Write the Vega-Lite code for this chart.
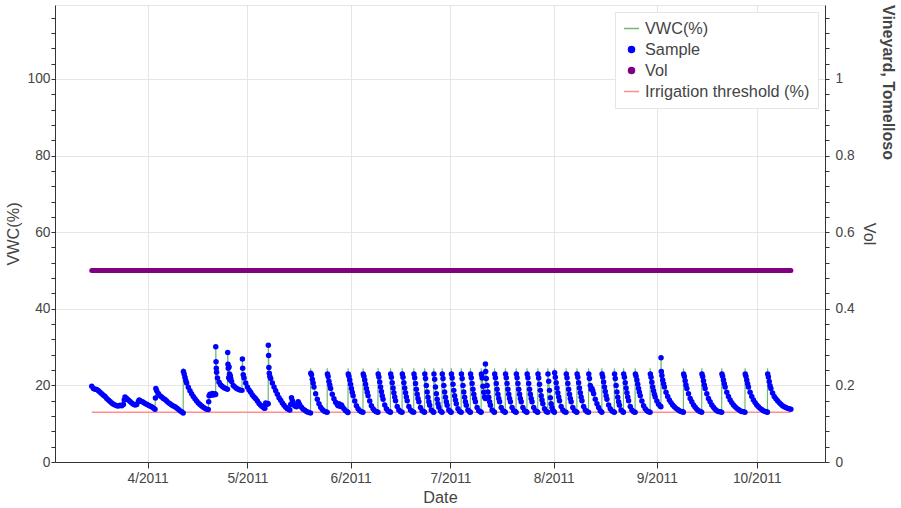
{
"$schema": "https://vega.github.io/schema/vega-lite/v6.json",
"width": 770,
"height": 457,
"padding": {"left": 5, "top": 5, "right": 5, "bottom": 5},
"background": "white",
"title": {"text": "Vineyard, Tomelloso", "orient": "right", "anchor": "start", "fontSize": 16, "font": "Liberation Sans", "fontWeight": "bold", "color": "#444", "offset": 4},
"data": {"format": {"parse": {"t": "date:'%Y-%m-%d %H'"}}, "values": [
{"t":"2011-03-15 06","v":19.8},{"t":"2011-03-15 18","v":19.2},{"t":"2011-03-16 06","v":19.0},{"t":"2011-03-16 18","v":18.9},{"t":"2011-03-17 06","v":18.6},{"t":"2011-03-17 18","v":18.2},{"t":"2011-03-18 06","v":17.8},{"t":"2011-03-18 18","v":17.4},{"t":"2011-03-19 06","v":17.1},{"t":"2011-03-19 18","v":16.6},{"t":"2011-03-20 06","v":16.2},{"t":"2011-03-20 18","v":15.8},{"t":"2011-03-21 06","v":15.4},{"t":"2011-03-21 18","v":15.1},{"t":"2011-03-22 06","v":14.9},{"t":"2011-03-22 18","v":14.7},{"t":"2011-03-23 06","v":14.6},{"t":"2011-03-23 18","v":14.8},{"t":"2011-03-24 06","v":14.7},{"t":"2011-03-24 18","v":15.0},{"t":"2011-03-25 00","v":16.2},{"t":"2011-03-25 06","v":17.0},{"t":"2011-03-25 18","v":16.6},{"t":"2011-03-26 06","v":16.2},{"t":"2011-03-26 18","v":15.8},{"t":"2011-03-27 06","v":15.4},{"t":"2011-03-27 18","v":15.1},{"t":"2011-03-28 06","v":14.9},{"t":"2011-03-28 18","v":15.0},{"t":"2011-03-29 06","v":15.8},{"t":"2011-03-29 12","v":16.2},{"t":"2011-03-29 18","v":16.0},{"t":"2011-03-30 06","v":15.8},{"t":"2011-03-30 18","v":15.6},{"t":"2011-03-31 06","v":15.3},{"t":"2011-03-31 18","v":15.1},
{"t":"2011-04-01 06","v":14.8},{"t":"2011-04-01 18","v":14.6},{"t":"2011-04-02 06","v":14.4},{"t":"2011-04-02 18","v":14.1},{"t":"2011-04-03 06","v":13.8},{"t":"2011-04-03 09","v":16.7},{"t":"2011-04-03 12","v":19.2},{"t":"2011-04-03 18","v":18.6},{"t":"2011-04-04 06","v":17.9},{"t":"2011-04-04 18","v":17.3},{"t":"2011-04-05 06","v":17.0},{"t":"2011-04-05 18","v":16.6},{"t":"2011-04-06 06","v":16.3},{"t":"2011-04-06 18","v":15.9},{"t":"2011-04-07 06","v":15.5},{"t":"2011-04-07 18","v":15.2},{"t":"2011-04-08 06","v":14.9},{"t":"2011-04-08 18","v":14.6},{"t":"2011-04-09 06","v":14.4},{"t":"2011-04-09 18","v":14.1},{"t":"2011-04-10 06","v":13.8},{"t":"2011-04-10 18","v":13.4},{"t":"2011-04-11 06","v":13.1},{"t":"2011-04-11 17","v":12.8},
{"t":"2011-04-11 18","v":24.5,"s":0},{"t":"2011-04-11 19","v":23.6},{"t":"2011-04-12 00","v":23.0},{"t":"2011-04-12 06","v":22.1},{"t":"2011-04-12 12","v":21.3},{"t":"2011-04-12 18","v":20.6},{"t":"2011-04-13 06","v":19.5},{"t":"2011-04-13 18","v":18.6},{"t":"2011-04-14 06","v":17.8},{"t":"2011-04-14 18","v":17.1},{"t":"2011-04-15 06","v":16.5},{"t":"2011-04-15 18","v":15.9},{"t":"2011-04-16 06","v":15.4},{"t":"2011-04-16 18","v":15.0},{"t":"2011-04-17 06","v":14.6},{"t":"2011-04-17 18","v":14.3},{"t":"2011-04-18 06","v":14.0},{"t":"2011-04-18 18","v":13.8},{"t":"2011-04-19 06","v":13.7},
{"t":"2011-04-19 09","v":15.7},{"t":"2011-04-19 12","v":17.3},{"t":"2011-04-19 18","v":17.7},{"t":"2011-04-20 00","v":17.4},{"t":"2011-04-20 06","v":17.6},{"t":"2011-04-20 12","v":17.9},{"t":"2011-04-20 18","v":17.5},{"t":"2011-04-21 00","v":17.6},{"t":"2011-04-21 06","v":17.8},{"t":"2011-04-21 11","v":17.6},
{"t":"2011-04-21 12","v":30.1},{"t":"2011-04-21 14","v":26.2},{"t":"2011-04-21 16","v":24.5},{"t":"2011-04-21 18","v":23.4},{"t":"2011-04-22 00","v":21.9},{"t":"2011-04-22 12","v":20.8},{"t":"2011-04-23 00","v":20.1},{"t":"2011-04-23 12","v":19.7},{"t":"2011-04-24 00","v":19.4},{"t":"2011-04-24 12","v":19.2},{"t":"2011-04-25 00","v":19.0},
{"t":"2011-04-25 02","v":28.6},{"t":"2011-04-25 04","v":25.5},{"t":"2011-04-25 06","v":24.5},{"t":"2011-04-25 09","v":22.0},{"t":"2011-04-25 12","v":24.8},{"t":"2011-04-25 15","v":23.0},{"t":"2011-04-25 18","v":21.5},{"t":"2011-04-25 21","v":22.5},{"t":"2011-04-26 00","v":21.8},{"t":"2011-04-26 06","v":21.0},{"t":"2011-04-26 18","v":20.0},{"t":"2011-04-27 06","v":19.6},{"t":"2011-04-27 18","v":19.2},{"t":"2011-04-28 06","v":19.0},{"t":"2011-04-28 18","v":18.8},{"t":"2011-04-29 09","v":18.7},
{"t":"2011-04-29 12","v":26.9},{"t":"2011-04-29 14","v":24.5},{"t":"2011-04-29 18","v":22.8},{"t":"2011-04-30 00","v":21.9},{"t":"2011-04-30 12","v":20.6},{"t":"2011-05-01 00","v":19.6},{"t":"2011-05-01 12","v":18.8},{"t":"2011-05-02 00","v":18.2},{"t":"2011-05-02 12","v":17.5},{"t":"2011-05-03 00","v":17.0},{"t":"2011-05-03 12","v":16.5},{"t":"2011-05-04 00","v":15.9},{"t":"2011-05-04 12","v":15.3},{"t":"2011-05-05 00","v":14.8},{"t":"2011-05-05 12","v":14.4},{"t":"2011-05-06 00","v":14.1},{"t":"2011-05-06 06","v":14.0},{"t":"2011-05-06 12","v":15.4},{"t":"2011-05-06 18","v":15.0},{"t":"2011-05-07 00","v":15.3},{"t":"2011-05-07 06","v":15.2},
{"t":"2011-05-07 07","v":30.5},{"t":"2011-05-07 09","v":27.8},{"t":"2011-05-07 11","v":24.7},{"t":"2011-05-07 14","v":23.2},{"t":"2011-05-07 18","v":22.3},{"t":"2011-05-08 00","v":21.8},{"t":"2011-05-08 12","v":20.6},{"t":"2011-05-09 00","v":19.6},{"t":"2011-05-09 12","v":18.6},{"t":"2011-05-10 00","v":17.7},{"t":"2011-05-10 12","v":16.8},{"t":"2011-05-11 00","v":16.1},{"t":"2011-05-11 12","v":15.4},{"t":"2011-05-12 00","v":14.8},{"t":"2011-05-12 12","v":14.3},{"t":"2011-05-13 00","v":13.9},{"t":"2011-05-13 12","v":13.7},{"t":"2011-05-13 18","v":13.6},{"t":"2011-05-14 00","v":15.0},{"t":"2011-05-14 06","v":16.8},{"t":"2011-05-14 12","v":16.0},{"t":"2011-05-14 18","v":15.4},{"t":"2011-05-15 06","v":14.6},{"t":"2011-05-15 18","v":14.4},{"t":"2011-05-16 06","v":15.7},{"t":"2011-05-16 12","v":15.3},{"t":"2011-05-16 18","v":14.8},{"t":"2011-05-17 06","v":14.3},{"t":"2011-05-17 18","v":13.8},{"t":"2011-05-18 06","v":13.5},{"t":"2011-05-18 18","v":13.2},{"t":"2011-05-19 06","v":13.0},{"t":"2011-05-19 23","v":12.8},
{"t":"2011-05-20 00","v":24.5,"s":0},{"t":"2011-05-20 01","v":23.2},{"t":"2011-05-20 06","v":22.8},{"t":"2011-05-20 12","v":21.6},{"t":"2011-05-20 18","v":20.6},{"t":"2011-05-21 00","v":19.6},{"t":"2011-05-21 12","v":17.8},{"t":"2011-05-22 00","v":16.4},{"t":"2011-05-22 12","v":15.2},{"t":"2011-05-23 00","v":14.3},{"t":"2011-05-23 12","v":13.7},{"t":"2011-05-24 00","v":13.3},{"t":"2011-05-24 12","v":13.1},{"t":"2011-05-24 23","v":13.0},
{"t":"2011-05-25 00","v":24.5,"s":0},{"t":"2011-05-25 01","v":23.0},{"t":"2011-05-25 06","v":22.3},{"t":"2011-05-25 12","v":21.1},{"t":"2011-05-25 18","v":20.1},{"t":"2011-05-26 00","v":19.2},{"t":"2011-05-26 12","v":17.7},{"t":"2011-05-27 00","v":16.5},{"t":"2011-05-27 12","v":15.6},{"t":"2011-05-28 00","v":15.0},{"t":"2011-05-28 06","v":14.7},{"t":"2011-05-28 12","v":15.2},{"t":"2011-05-28 18","v":14.8},{"t":"2011-05-29 00","v":14.5},{"t":"2011-05-29 06","v":14.9},{"t":"2011-05-29 12","v":14.4},{"t":"2011-05-30 00","v":13.9},{"t":"2011-05-30 12","v":13.4},{"t":"2011-05-31 00","v":13.1},{"t":"2011-05-31 05","v":12.9},
{"t":"2011-05-31 06","v":24.5,"s":0},{"t":"2011-05-31 07","v":23.0},{"t":"2011-05-31 12","v":22.4},{"t":"2011-05-31 18","v":21.4},{"t":"2011-06-01 00","v":20.3},{"t":"2011-06-01 06","v":19.2},{"t":"2011-06-01 12","v":18.2},{"t":"2011-06-01 18","v":17.3},{"t":"2011-06-02 06","v":15.9},{"t":"2011-06-02 18","v":14.7},{"t":"2011-06-03 06","v":13.9},{"t":"2011-06-03 18","v":13.4},{"t":"2011-06-04 06","v":13.1},{"t":"2011-06-04 17","v":13.0},
{"t":"2011-06-04 18","v":24.5,"s":0},{"t":"2011-06-04 19","v":23.0},{"t":"2011-06-05 00","v":22.4},{"t":"2011-06-05 06","v":21.4},{"t":"2011-06-05 12","v":20.3},{"t":"2011-06-05 18","v":19.2},{"t":"2011-06-06 00","v":18.2},{"t":"2011-06-06 06","v":17.3},{"t":"2011-06-06 18","v":15.9},{"t":"2011-06-07 06","v":14.7},{"t":"2011-06-07 18","v":13.9},{"t":"2011-06-08 06","v":13.4},{"t":"2011-06-08 18","v":13.1},{"t":"2011-06-09 05","v":13.0},
{"t":"2011-06-09 06","v":24.5,"s":0},{"t":"2011-06-09 07","v":23.0},{"t":"2011-06-09 12","v":22.2},{"t":"2011-06-09 18","v":20.9},{"t":"2011-06-10 00","v":19.6},{"t":"2011-06-10 06","v":18.4},{"t":"2011-06-10 12","v":17.3},{"t":"2011-06-10 18","v":16.4},{"t":"2011-06-11 06","v":14.9},{"t":"2011-06-11 18","v":13.9},{"t":"2011-06-12 06","v":13.3},{"t":"2011-06-12 18","v":13.1},{"t":"2011-06-12 23","v":13.0},
{"t":"2011-06-13 00","v":24.5,"s":0},{"t":"2011-06-13 01","v":23.0},{"t":"2011-06-13 06","v":22.1},{"t":"2011-06-13 12","v":20.7},{"t":"2011-06-13 18","v":19.3},{"t":"2011-06-14 00","v":18.1},{"t":"2011-06-14 06","v":17.0},{"t":"2011-06-14 12","v":16.0},{"t":"2011-06-15 00","v":14.5},{"t":"2011-06-15 12","v":13.6},{"t":"2011-06-16 00","v":13.1},{"t":"2011-06-16 11","v":13.0},
{"t":"2011-06-16 12","v":24.5,"s":0},{"t":"2011-06-16 13","v":23.0},{"t":"2011-06-16 18","v":22.1},{"t":"2011-06-17 00","v":20.7},{"t":"2011-06-17 06","v":19.3},{"t":"2011-06-17 12","v":18.1},{"t":"2011-06-17 18","v":17.0},{"t":"2011-06-18 00","v":16.0},{"t":"2011-06-18 12","v":14.5},{"t":"2011-06-19 00","v":13.6},{"t":"2011-06-19 12","v":13.1},{"t":"2011-06-19 23","v":13.0},
{"t":"2011-06-20 00","v":24.5,"s":0},{"t":"2011-06-20 01","v":23.0},{"t":"2011-06-20 06","v":22.0},{"t":"2011-06-20 12","v":20.5},{"t":"2011-06-20 18","v":19.0},{"t":"2011-06-21 00","v":17.7},{"t":"2011-06-21 06","v":16.6},{"t":"2011-06-21 12","v":15.7},{"t":"2011-06-22 00","v":14.2},{"t":"2011-06-22 12","v":13.4},{"t":"2011-06-23 00","v":13.1},{"t":"2011-06-23 05","v":13.0},
{"t":"2011-06-23 06","v":24.5,"s":0},{"t":"2011-06-23 07","v":23.0},{"t":"2011-06-23 12","v":21.8},{"t":"2011-06-23 18","v":20.0},{"t":"2011-06-24 00","v":18.3},{"t":"2011-06-24 06","v":16.9},{"t":"2011-06-24 12","v":15.7},{"t":"2011-06-24 18","v":14.8},{"t":"2011-06-25 06","v":13.6},{"t":"2011-06-25 18","v":13.1},{"t":"2011-06-25 23","v":13.0},
{"t":"2011-06-26 00","v":24.5,"s":0},{"t":"2011-06-26 01","v":23.0},{"t":"2011-06-26 06","v":21.6},{"t":"2011-06-26 12","v":19.6},{"t":"2011-06-26 18","v":17.8},{"t":"2011-06-27 00","v":16.4},{"t":"2011-06-27 06","v":15.2},{"t":"2011-06-27 12","v":14.3},{"t":"2011-06-28 00","v":13.3},{"t":"2011-06-28 11","v":13.0},
{"t":"2011-06-28 12","v":24.5,"s":0},{"t":"2011-06-28 13","v":23.0},{"t":"2011-06-28 18","v":21.8},{"t":"2011-06-29 00","v":20.0},{"t":"2011-06-29 06","v":18.3},{"t":"2011-06-29 12","v":16.9},{"t":"2011-06-29 18","v":15.7},{"t":"2011-06-30 00","v":14.8},{"t":"2011-06-30 12","v":13.6},{"t":"2011-07-01 00","v":13.1},{"t":"2011-07-01 05","v":13.0},
{"t":"2011-07-01 06","v":24.5,"s":0},{"t":"2011-07-01 07","v":23.0},{"t":"2011-07-01 12","v":21.9},{"t":"2011-07-01 18","v":20.3},{"t":"2011-07-02 00","v":18.7},{"t":"2011-07-02 06","v":17.3},{"t":"2011-07-02 12","v":16.2},{"t":"2011-07-02 18","v":15.2},{"t":"2011-07-03 06","v":13.9},{"t":"2011-07-03 18","v":13.2},{"t":"2011-07-04 05","v":13.0},
{"t":"2011-07-04 06","v":24.5,"s":0},{"t":"2011-07-04 07","v":23.0},{"t":"2011-07-04 12","v":21.8},{"t":"2011-07-04 18","v":20.0},{"t":"2011-07-05 00","v":18.3},{"t":"2011-07-05 06","v":16.9},{"t":"2011-07-05 12","v":15.7},{"t":"2011-07-05 18","v":14.8},{"t":"2011-07-06 06","v":13.6},{"t":"2011-07-06 18","v":13.1},{"t":"2011-07-06 23","v":13.0},
{"t":"2011-07-07 00","v":24.5,"s":0},{"t":"2011-07-07 01","v":23.0},{"t":"2011-07-07 06","v":22.0},{"t":"2011-07-07 12","v":20.5},{"t":"2011-07-07 18","v":19.0},{"t":"2011-07-08 00","v":17.7},{"t":"2011-07-08 06","v":16.6},{"t":"2011-07-08 12","v":15.7},{"t":"2011-07-09 00","v":14.2},{"t":"2011-07-09 12","v":13.4},{"t":"2011-07-10 00","v":13.1},{"t":"2011-07-10 05","v":13.0},
{"t":"2011-07-10 06","v":24.5,"s":0},{"t":"2011-07-10 07","v":23.0},{"t":"2011-07-10 09","v":22.7},{"t":"2011-07-10 12","v":21.9},{"t":"2011-07-10 18","v":19.8},{"t":"2011-07-11 00","v":18.2},{"t":"2011-07-11 06","v":17.0},{"t":"2011-07-11 11","v":16.6},
{"t":"2011-07-11 12","v":25.6},{"t":"2011-07-11 14","v":23.6},{"t":"2011-07-11 18","v":21.8},{"t":"2011-07-12 00","v":20.0},{"t":"2011-07-12 06","v":18.3},{"t":"2011-07-12 12","v":16.9},{"t":"2011-07-12 18","v":15.7},{"t":"2011-07-13 00","v":14.8},{"t":"2011-07-13 12","v":13.6},{"t":"2011-07-14 00","v":13.1},{"t":"2011-07-14 05","v":13.0},
{"t":"2011-07-14 06","v":24.5,"s":0},{"t":"2011-07-14 07","v":23.0},{"t":"2011-07-14 12","v":22.0},{"t":"2011-07-14 18","v":20.5},{"t":"2011-07-15 00","v":19.0},{"t":"2011-07-15 06","v":17.7},{"t":"2011-07-15 12","v":16.6},{"t":"2011-07-15 18","v":15.7},{"t":"2011-07-16 06","v":14.2},{"t":"2011-07-16 18","v":13.4},{"t":"2011-07-17 06","v":13.1},{"t":"2011-07-17 11","v":13.0},
{"t":"2011-07-17 12","v":24.5,"s":0},{"t":"2011-07-17 13","v":23.0},{"t":"2011-07-17 18","v":22.0},{"t":"2011-07-18 00","v":20.5},{"t":"2011-07-18 06","v":19.0},{"t":"2011-07-18 12","v":17.7},{"t":"2011-07-18 18","v":16.6},{"t":"2011-07-19 00","v":15.7},{"t":"2011-07-19 12","v":14.2},{"t":"2011-07-20 00","v":13.4},{"t":"2011-07-20 12","v":13.1},{"t":"2011-07-20 17","v":13.0},
{"t":"2011-07-20 18","v":24.5,"s":0},{"t":"2011-07-20 19","v":23.0},{"t":"2011-07-21 00","v":22.0},{"t":"2011-07-21 06","v":20.5},{"t":"2011-07-21 12","v":19.0},{"t":"2011-07-21 18","v":17.7},{"t":"2011-07-22 00","v":16.6},{"t":"2011-07-22 06","v":15.7},{"t":"2011-07-22 18","v":14.2},{"t":"2011-07-23 06","v":13.4},{"t":"2011-07-23 18","v":13.1},{"t":"2011-07-23 23","v":13.0},
{"t":"2011-07-24 00","v":24.5,"s":0},{"t":"2011-07-24 01","v":23.0},{"t":"2011-07-24 06","v":22.0},{"t":"2011-07-24 12","v":20.5},{"t":"2011-07-24 18","v":19.0},{"t":"2011-07-25 00","v":17.7},{"t":"2011-07-25 06","v":16.6},{"t":"2011-07-25 12","v":15.7},{"t":"2011-07-26 00","v":14.2},{"t":"2011-07-26 12","v":13.4},{"t":"2011-07-27 00","v":13.1},{"t":"2011-07-27 05","v":13.0},
{"t":"2011-07-27 06","v":24.5,"s":0},{"t":"2011-07-27 07","v":23.0},{"t":"2011-07-27 12","v":21.9},{"t":"2011-07-27 18","v":20.3},{"t":"2011-07-28 00","v":18.7},{"t":"2011-07-28 06","v":17.3},{"t":"2011-07-28 12","v":16.2},{"t":"2011-07-28 18","v":15.2},{"t":"2011-07-29 06","v":13.9},{"t":"2011-07-29 18","v":13.2},{"t":"2011-07-30 05","v":13.0},
{"t":"2011-07-30 06","v":24.5,"s":0},{"t":"2011-07-30 07","v":23.0},{"t":"2011-07-30 12","v":21.1},{"t":"2011-07-30 18","v":18.7},{"t":"2011-07-31 00","v":16.8},{"t":"2011-07-31 06","v":15.2},{"t":"2011-07-31 12","v":14.2},{"t":"2011-07-31 18","v":13.5},{"t":"2011-08-01 00","v":13.2},{"t":"2011-08-01 05","v":13.0},
{"t":"2011-08-01 06","v":24.5,"s":0},{"t":"2011-08-01 07","v":23.3},{"t":"2011-08-01 12","v":22.1},{"t":"2011-08-01 18","v":20.7},{"t":"2011-08-02 00","v":19.3},{"t":"2011-08-02 06","v":18.1},{"t":"2011-08-02 12","v":17.0},{"t":"2011-08-02 18","v":16.0},{"t":"2011-08-03 06","v":14.5},{"t":"2011-08-03 18","v":13.6},{"t":"2011-08-04 06","v":13.1},{"t":"2011-08-04 17","v":13.0},
{"t":"2011-08-04 18","v":24.5,"s":0},{"t":"2011-08-04 19","v":23.0},{"t":"2011-08-05 00","v":22.0},{"t":"2011-08-05 06","v":20.5},{"t":"2011-08-05 12","v":19.0},{"t":"2011-08-05 18","v":17.7},{"t":"2011-08-06 00","v":16.6},{"t":"2011-08-06 06","v":15.7},{"t":"2011-08-06 18","v":14.2},{"t":"2011-08-07 06","v":13.4},{"t":"2011-08-07 18","v":13.1},{"t":"2011-08-07 23","v":13.0},
{"t":"2011-08-08 00","v":24.5,"s":0},{"t":"2011-08-08 01","v":23.0},{"t":"2011-08-08 06","v":22.1},{"t":"2011-08-08 12","v":20.7},{"t":"2011-08-08 18","v":19.3},{"t":"2011-08-09 00","v":18.1},{"t":"2011-08-09 06","v":17.0},{"t":"2011-08-09 12","v":16.0},{"t":"2011-08-10 00","v":14.5},{"t":"2011-08-10 12","v":13.6},{"t":"2011-08-11 00","v":13.1},{"t":"2011-08-11 11","v":13.0},
{"t":"2011-08-11 12","v":24.5,"s":0},{"t":"2011-08-11 13","v":23.0},{"t":"2011-08-11 18","v":21.8},{"t":"2011-08-12 00","v":20.0},{"t":"2011-08-12 06","v":19.0},{"t":"2011-08-12 12","v":19.2},{"t":"2011-08-12 18","v":18.6},{"t":"2011-08-13 00","v":17.8},{"t":"2011-08-13 12","v":16.4},{"t":"2011-08-14 00","v":15.2},{"t":"2011-08-14 12","v":14.2},{"t":"2011-08-15 00","v":13.4},{"t":"2011-08-15 11","v":13.0},
{"t":"2011-08-15 12","v":24.5,"s":0},{"t":"2011-08-15 13","v":23.0},{"t":"2011-08-15 18","v":22.2},{"t":"2011-08-16 00","v":20.9},{"t":"2011-08-16 06","v":19.6},{"t":"2011-08-16 12","v":18.4},{"t":"2011-08-16 18","v":17.3},{"t":"2011-08-17 00","v":16.4},{"t":"2011-08-17 12","v":14.9},{"t":"2011-08-18 00","v":13.9},{"t":"2011-08-18 12","v":13.3},{"t":"2011-08-19 00","v":13.1},{"t":"2011-08-19 05","v":13.0},
{"t":"2011-08-19 06","v":24.5,"s":0},{"t":"2011-08-19 07","v":23.0},{"t":"2011-08-19 12","v":21.8},{"t":"2011-08-19 18","v":20.0},{"t":"2011-08-20 00","v":18.3},{"t":"2011-08-20 06","v":16.9},{"t":"2011-08-20 12","v":15.7},{"t":"2011-08-20 18","v":14.8},{"t":"2011-08-21 06","v":13.6},{"t":"2011-08-21 18","v":13.1},{"t":"2011-08-21 23","v":13.0},
{"t":"2011-08-22 00","v":24.5,"s":0},{"t":"2011-08-22 01","v":23.0},{"t":"2011-08-22 06","v":22.1},{"t":"2011-08-22 12","v":20.7},{"t":"2011-08-22 18","v":19.3},{"t":"2011-08-23 00","v":18.1},{"t":"2011-08-23 06","v":17.0},{"t":"2011-08-23 12","v":16.0},{"t":"2011-08-24 00","v":14.5},{"t":"2011-08-24 12","v":13.6},{"t":"2011-08-25 00","v":13.1},{"t":"2011-08-25 11","v":13.0},
{"t":"2011-08-25 12","v":24.5,"s":0},{"t":"2011-08-25 13","v":23.0},{"t":"2011-08-25 18","v":22.4},{"t":"2011-08-26 00","v":21.4},{"t":"2011-08-26 06","v":20.3},{"t":"2011-08-26 12","v":19.2},{"t":"2011-08-26 18","v":18.2},{"t":"2011-08-27 00","v":17.3},{"t":"2011-08-27 12","v":15.9},{"t":"2011-08-28 00","v":14.7},{"t":"2011-08-28 12","v":13.9},{"t":"2011-08-29 00","v":13.4},{"t":"2011-08-29 12","v":13.1},{"t":"2011-08-29 23","v":13.0},
{"t":"2011-08-30 00","v":24.5,"s":0},{"t":"2011-08-30 01","v":23.0},{"t":"2011-08-30 06","v":22.1},{"t":"2011-08-30 12","v":20.8},{"t":"2011-08-30 18","v":19.6},{"t":"2011-08-31 00","v":18.6},{"t":"2011-08-31 06","v":17.7},{"t":"2011-08-31 12","v":17.0},{"t":"2011-09-01 00","v":15.9},{"t":"2011-09-01 12","v":15.1},{"t":"2011-09-02 00","v":14.6},{"t":"2011-09-02 05","v":14.4},
{"t":"2011-09-02 06","v":27.2},{"t":"2011-09-02 08","v":23.6},{"t":"2011-09-02 12","v":22.6},{"t":"2011-09-02 18","v":21.4},{"t":"2011-09-03 00","v":20.4},{"t":"2011-09-03 06","v":19.6},{"t":"2011-09-03 18","v":18.2},{"t":"2011-09-04 06","v":17.1},{"t":"2011-09-04 18","v":16.2},{"t":"2011-09-05 06","v":15.5},{"t":"2011-09-05 18","v":14.9},{"t":"2011-09-06 06","v":14.4},{"t":"2011-09-06 18","v":14.0},{"t":"2011-09-07 06","v":13.7},{"t":"2011-09-07 18","v":13.4},{"t":"2011-09-08 06","v":13.2},{"t":"2011-09-08 18","v":13.1},{"t":"2011-09-08 23","v":13.0},
{"t":"2011-09-09 00","v":24.5,"s":0},{"t":"2011-09-09 01","v":23.0},{"t":"2011-09-09 06","v":22.3},{"t":"2011-09-09 12","v":21.2},{"t":"2011-09-09 18","v":20.1},{"t":"2011-09-10 00","v":19.2},{"t":"2011-09-10 12","v":17.8},{"t":"2011-09-11 00","v":16.6},{"t":"2011-09-11 12","v":15.7},{"t":"2011-09-12 00","v":14.9},{"t":"2011-09-12 12","v":14.3},{"t":"2011-09-13 00","v":13.8},{"t":"2011-09-13 12","v":13.4},{"t":"2011-09-14 00","v":13.2},{"t":"2011-09-14 11","v":13.0},
{"t":"2011-09-14 12","v":24.5,"s":0},{"t":"2011-09-14 13","v":23.0},{"t":"2011-09-14 18","v":22.3},{"t":"2011-09-15 00","v":21.2},{"t":"2011-09-15 06","v":20.1},{"t":"2011-09-15 12","v":19.2},{"t":"2011-09-16 00","v":17.8},{"t":"2011-09-16 12","v":16.6},{"t":"2011-09-17 00","v":15.7},{"t":"2011-09-17 12","v":14.9},{"t":"2011-09-18 00","v":14.3},{"t":"2011-09-18 12","v":13.8},{"t":"2011-09-19 00","v":13.4},{"t":"2011-09-19 12","v":13.2},{"t":"2011-09-20 00","v":13.1},{"t":"2011-09-20 11","v":13.0},
{"t":"2011-09-20 12","v":24.5,"s":0},{"t":"2011-09-20 13","v":23.0},{"t":"2011-09-20 18","v":22.4},{"t":"2011-09-21 00","v":21.4},{"t":"2011-09-21 06","v":20.4},{"t":"2011-09-21 12","v":19.6},{"t":"2011-09-22 00","v":18.2},{"t":"2011-09-22 12","v":17.1},{"t":"2011-09-23 00","v":16.2},{"t":"2011-09-23 12","v":15.5},{"t":"2011-09-24 00","v":14.9},{"t":"2011-09-24 12","v":14.4},{"t":"2011-09-25 00","v":14.0},{"t":"2011-09-25 12","v":13.7},{"t":"2011-09-26 00","v":13.4},{"t":"2011-09-26 12","v":13.2},{"t":"2011-09-27 00","v":13.1},{"t":"2011-09-27 11","v":13.0},
{"t":"2011-09-27 12","v":24.5,"s":0},{"t":"2011-09-27 13","v":23.0},{"t":"2011-09-27 18","v":22.4},{"t":"2011-09-28 00","v":21.4},{"t":"2011-09-28 06","v":20.4},{"t":"2011-09-28 12","v":19.6},{"t":"2011-09-29 00","v":18.2},{"t":"2011-09-29 12","v":17.1},{"t":"2011-09-30 00","v":16.2},{"t":"2011-09-30 12","v":15.5},{"t":"2011-10-01 00","v":14.9},{"t":"2011-10-01 12","v":14.4},{"t":"2011-10-02 00","v":14.0},{"t":"2011-10-02 12","v":13.7},{"t":"2011-10-03 00","v":13.4},{"t":"2011-10-03 12","v":13.2},{"t":"2011-10-04 00","v":13.1},{"t":"2011-10-04 05","v":13.0},
{"t":"2011-10-04 06","v":24.5,"s":0},{"t":"2011-10-04 07","v":23.0},{"t":"2011-10-04 12","v":22.2},{"t":"2011-10-04 18","v":21.0},{"t":"2011-10-05 00","v":19.9},{"t":"2011-10-05 06","v":19.2},{"t":"2011-10-05 18","v":18.0},{"t":"2011-10-06 06","v":17.1},{"t":"2011-10-06 18","v":16.5},{"t":"2011-10-07 06","v":16.0},{"t":"2011-10-07 18","v":15.5},{"t":"2011-10-08 06","v":15.1},{"t":"2011-10-08 18","v":14.7},{"t":"2011-10-09 06","v":14.4},{"t":"2011-10-09 18","v":14.2},{"t":"2011-10-10 06","v":14.0},{"t":"2011-10-10 18","v":13.9},{"t":"2011-10-11 06","v":13.8}
]},
"encoding": {
  "x": {"field": "t", "type": "temporal", "title": "Date",
    "scale": {"domain": [{"year": 2011, "month": 3, "date": 4, "hours": 5}, {"year": 2011, "month": 10, "date": 21, "hours": 12}]},
    "axis": {"values": [{"year": 2011, "month": 4, "date": 1}, {"year": 2011, "month": 5, "date": 1}, {"year": 2011, "month": 6, "date": 1}, {"year": 2011, "month": 7, "date": 1}, {"year": 2011, "month": 8, "date": 1}, {"year": 2011, "month": 9, "date": 1}, {"year": 2011, "month": 10, "date": 1}],
      "format": "%-m/%Y", "grid": true, "tickSize": 6, "tickCount": 50, "labelPadding": 3, "titlePadding": 5, "labelFlush": false,
      "encode": {"ticks": {"update": {"y": {"value": -2}}}}}}
},
"layer": [
  {"layer": [
    {"data": {"format": {"parse": {"t": "date:'%Y-%m-%d %H'"}}, "values": [{"t": "2011-03-15 06", "thr": 13}, {"t": "2011-10-11 06", "thr": 13}]},
     "mark": {"type": "line", "strokeWidth": 1.5},
     "encoding": {
       "y": {"field": "thr", "type": "quantitative", "title": "VWC(%)", "scale": {"domain": [0, 119.3], "nice": false, "zero": true},
         "axis": {"orient": "left", "title": "VWC(%)", "values": [0,4,8,12,16,20,24,28,32,36,40,44,48,52,56,60,64,68,72,76,80,84,88,92,96,100,104,108,112,116],
           "tickCount": 200, "format": "~g", "labelExpr": "datum.value % 20 === 0 ? datum.label : ''", "labelOverlap": false, "grid": true, "tickSize": 4, "labelPadding": 1, "titlePadding": 6,
           "gridOpacity": {"condition": {"test": "datum.value % 20 === 0", "value": 1}, "value": 0},
           "encode": {"ticks": {"update": {"x": {"signal": "datum.value % 20 === 0 ? 2 : 0"}, "x2": {"signal": "datum.value % 20 === 0 ? -6 : -4"}}}}}},
       "color": {"datum": "Irrigation threshold (%)"}
     }},
    {"mark": {"type": "line", "strokeWidth": 1.2},
     "encoding": {
       "y": {"field": "v", "type": "quantitative", "title": "VWC(%)", "scale": {"domain": [0, 119.3], "nice": false, "zero": true}},
       "color": {"datum": "VWC(%)",
         "scale": {"domain": ["VWC(%)", "Sample", "Vol", "Irrigation threshold (%)"], "range": ["#70b870", "#0000ff", "#800080", "#ff8f8f"]},
         "legend": {"title": null, "orient": "top-right", "offset": 7, "padding": 8, "fillColor": "white", "strokeColor": "#e5e5e5",
           "labelFont": "Liberation Sans", "labelFontSize": 16.25, "labelColor": "#444", "labelLimit": 400, "labelOffset": 5,
           "symbolSize": 225, "rowPadding": 4, "symbolStrokeWidth": 1.5,
           "encode": {"symbols": {"update": {
             "shape": {"signal": "datum.value === 'Sample' || datum.value === 'Vol' ? 'circle' : 'stroke'"},
             "size": {"signal": "datum.value === 'Sample' || datum.value === 'Vol' ? 36 : 225"},
             "fill": {"signal": "datum.value === 'Sample' ? '#0000ff' : datum.value === 'Vol' ? '#800080' : 'transparent'"},
             "stroke": {"signal": "datum.value === 'VWC(%)' ? '#70b870' : datum.value === 'Irrigation threshold (%)' ? '#ff8f8f' : 'transparent'"},
             "strokeWidth": {"value": 1.5},
             "opacity": {"value": 1}}}}}}
     }},
    {"transform": [{"filter": "datum.s !== 0"}],
     "mark": {"type": "point", "filled": true, "size": 30, "opacity": 1},
     "encoding": {
       "y": {"field": "v", "type": "quantitative", "title": "VWC(%)", "scale": {"domain": [0, 119.3], "nice": false, "zero": true}},
       "color": {"datum": "Sample"}
     }}
  ]},
  {"data": {"format": {"parse": {"t": "date:'%Y-%m-%d %H'"}}, "values": [{"t": "2011-03-15 06", "vol": 0.5}, {"t": "2011-10-11 06", "vol": 0.5}]},
   "mark": {"type": "line", "strokeWidth": 5, "strokeCap": "round"},
   "encoding": {
     "y": {"field": "vol", "type": "quantitative", "title": "Vol", "scale": {"domain": [0, 1.193], "nice": false, "zero": true},
       "axis": {"orient": "right", "title": "Vol", "values": [0,0.04,0.08,0.12,0.16,0.2,0.24,0.28,0.32,0.36,0.4,0.44,0.48,0.52,0.56,0.6,0.64,0.68,0.72,0.76,0.8,0.84,0.88,0.92,0.96,1,1.04,1.08,1.12,1.16],
         "tickCount": 200, "format": "~g", "labelExpr": "round(datum.value * 100) % 20 === 0 ? datum.label : ''", "labelOverlap": false, "grid": false, "tickSize": 4, "labelPadding": 6, "titlePadding": 6,
         "encode": {"ticks": {"update": {"x": {"signal": "round(datum.value * 100) % 20 === 0 ? -2 : 0"}, "x2": {"signal": "round(datum.value * 100) % 20 === 0 ? 6 : 4"}}}}}},
     "color": {"datum": "Vol"}
   }}
],
"resolve": {"scale": {"y": "independent"}},
"config": {
  "font": "Liberation Sans",
  "view": {"stroke": "#e5e5e5"},
  "axis": {"labelFont": "Liberation Sans", "labelFontSize": 13.75, "labelColor": "#444", "titleFont": "Liberation Sans", "titleFontSize": 16.25, "titleColor": "#444", "titleFontWeight": "normal", "domainColor": "#333", "tickColor": "#333", "gridColor": "#e5e5e5"}
}
}
